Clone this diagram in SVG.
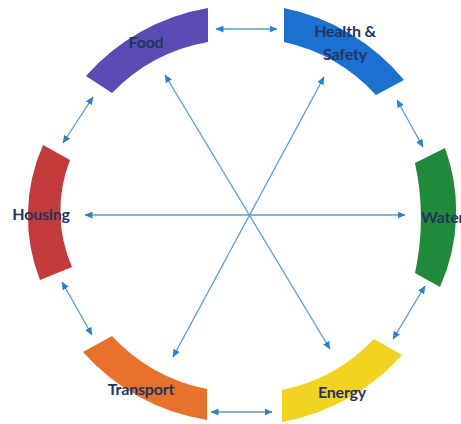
<svg xmlns="http://www.w3.org/2000/svg" width="461" height="424" viewBox="0 0 461 424">
<defs>
<marker id="ah" markerWidth="8" markerHeight="7" refX="7.5" refY="3.5" orient="auto-start-reverse" markerUnits="userSpaceOnUse">
<path d="M0,0 L8,3.5 L0,7 Z" fill="#2f7fcf"/>
</marker>
<style>
.lbl{font-family:Lato,"Open Sans","Liberation Sans",sans-serif;font-weight:bold;font-size:16px;fill:#1f3660;text-anchor:middle;letter-spacing:-0.2px}
.con{stroke:#5a9ad8;stroke-width:1.3;fill:none;marker-start:url(#ah);marker-end:url(#ah)}
</style>
</defs>
<rect width="461" height="424" fill="#ffffff"/>
<g id="food"><path d="M86,76 A210,210 0 0 1 208,8 L208,42 A176,176 0 0 0 112,93 Z" fill="#5a4bb5"/><text class="lbl" x="146" y="48">Food</text></g>
<g id="health"><path d="M284,8 A210,210 0 0 1 404,80 L376,95 A176,176 0 0 0 284,42 Z" fill="#1c70cf"/><text class="lbl" x="345" y="37">Health &amp;</text><text class="lbl" x="345" y="60">Safety</text></g>
<g id="water"><path d="M445,148 A185,185 0 0 1 440,287 L415,273 A260,260 0 0 0 415,163 Z" fill="#1f8a3a"/><text class="lbl" x="421" y="223" style="text-anchor:start">Water</text></g>
<g id="energy"><path d="M402,355 A210,210 0 0 1 282,422 L282,390 A176,176 0 0 0 374,339 Z" fill="#f2d31f"/><text class="lbl" x="342" y="398">Energy</text></g>
<g id="transport"><path d="M207,420 A210,210 0 0 1 83,352 L112,336 A176,176 0 0 0 207,389 Z" fill="#e8722c"/><text class="lbl" x="141" y="395">Transport</text></g>
<g id="housing"><path d="M40,280 A175,175 0 0 1 43,145 L70,160 A140,140 0 0 0 72,267 Z" fill="#c23b3a"/><text class="lbl" x="41" y="220">Housing</text></g>
<g id="connectors">
<line class="con" x1="216" y1="29" x2="277" y2="29"/>
<line class="con" x1="397" y1="100" x2="423" y2="147"/>
<line class="con" x1="425" y1="286" x2="393" y2="339"/>
<line class="con" x1="272" y1="412" x2="211" y2="412"/>
<line class="con" x1="92" y1="335" x2="62" y2="282"/>
<line class="con" x1="63" y1="143" x2="93" y2="97"/>
<line class="con" x1="85" y1="215" x2="405" y2="215"/>
<line class="con" x1="165" y1="75" x2="330" y2="349"/>
<line class="con" x1="324" y1="77" x2="173" y2="357"/>
</g>
</svg>
